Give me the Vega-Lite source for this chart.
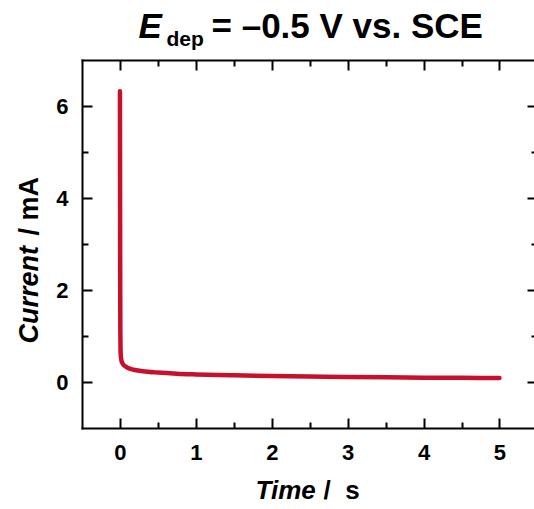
{
  "$schema": "https://vega.github.io/schema/vega-lite/v6.json",
  "width": 452,
  "height": 368,
  "autosize": {"type": "none"},
  "padding": {"left": 82, "top": 60, "right": 0, "bottom": 81},
  "background": "white",
  "config": {
    "view": {"stroke": null},
    "axis": {
      "grid": false,
      "domainColor": "black",
      "domainWidth": 2,
      "domainCap": "square",
      "tickColor": "black",
      "tickWidth": 2,
      "labelFont": "Liberation Sans",
      "labelFontWeight": "bold",
      "labelFontSize": 22,
      "labelColor": "black",
      "titleFont": "Liberation Sans",
      "titleFontWeight": "bold",
      "titleColor": "black"
    }
  },
  "data": {"values": [
    {"t": 0.000, "i": 6.32},
    {"t": 0.001, "i": 5.0},
    {"t": 0.002, "i": 3.8},
    {"t": 0.003, "i": 2.6},
    {"t": 0.004, "i": 1.8},
    {"t": 0.005, "i": 1.2},
    {"t": 0.007, "i": 0.8},
    {"t": 0.010, "i": 0.6},
    {"t": 0.020, "i": 0.46},
    {"t": 0.040, "i": 0.39},
    {"t": 0.070, "i": 0.34},
    {"t": 0.100, "i": 0.31},
    {"t": 0.150, "i": 0.28},
    {"t": 0.200, "i": 0.26},
    {"t": 0.300, "i": 0.235},
    {"t": 0.500, "i": 0.205},
    {"t": 0.750, "i": 0.18},
    {"t": 1.000, "i": 0.165},
    {"t": 1.500, "i": 0.145},
    {"t": 2.000, "i": 0.128},
    {"t": 2.500, "i": 0.117},
    {"t": 3.000, "i": 0.108},
    {"t": 3.500, "i": 0.101},
    {"t": 4.000, "i": 0.095},
    {"t": 4.500, "i": 0.091},
    {"t": 5.000, "i": 0.087}
  ]},
  "resolve": {"axis": {"x": "independent", "y": "independent"}},
  "layer": [
    {
      "mark": {"type": "line", "color": "#C8102E", "strokeWidth": 4.5, "strokeCap": "round", "interpolate": "monotone"},
      "encoding": {
        "x": {"field": "t", "type": "quantitative",
          "scale": {"domain": [-0.5, 5.455], "nice": false, "zero": false},
          "axis": {"orient": "bottom", "values": [0, 1, 2, 3, 4, 5], "tickSize": -10, "labelPadding": 24,
            "title": "Time", "titleFontStyle": "italic", "titleFontSize": 26, "titleX": 173, "titleY": 70,
            "titleAlign": "left", "titleBaseline": "alphabetic", "titleAnchor": "start"}},
        "y": {"field": "i", "type": "quantitative",
          "scale": {"domain": [-1, 7], "nice": false, "zero": false},
          "axis": {"orient": "left", "values": [0, 2, 4, 6], "tickSize": -10, "labelPadding": 24,
            "title": "Current", "titleFontStyle": "italic", "titleFontSize": 27, "titleX": -45, "titleY": 283,
            "titleAngle": -90, "titleAlign": "left", "titleBaseline": "alphabetic", "titleAnchor": "start"}}
      }
    },
    {
      "mark": {"type": "line", "strokeOpacity": 0},
      "encoding": {
        "x": {"field": "t", "type": "quantitative",
          "axis": {"orient": "bottom", "values": [0.5, 1.5, 2.5, 3.5, 4.5], "tickSize": -6, "labels": false, "domain": false,
            "title": "/\u00a0\u00a0s", "titleFontSize": 26, "titleX": 241, "titleY": 70,
            "titleAlign": "left", "titleBaseline": "alphabetic", "titleAnchor": "start"}},
        "y": {"field": "i", "type": "quantitative",
          "axis": {"orient": "left", "values": [1, 3, 5], "tickSize": -6, "labels": false, "domain": false,
            "title": "/ mA", "titleFontSize": 27, "titleX": -45, "titleY": 175,
            "titleAngle": -90, "titleAlign": "left", "titleBaseline": "alphabetic", "titleAnchor": "start"}}
      }
    },
    {
      "mark": {"type": "line", "strokeOpacity": 0},
      "encoding": {
        "x": {"field": "t", "type": "quantitative",
          "axis": {"orient": "top", "values": [0, 1, 2, 3, 4, 5], "tickSize": -10, "labels": false, "domain": true,
            "title": "E", "titleFontStyle": "italic", "titleFontSize": 35, "titleX": 56, "titleY": -23,
            "titleAngle": 0, "titleAlign": "left", "titleBaseline": "alphabetic", "titleAnchor": "start"}},
        "y": {"field": "i", "type": "quantitative",
          "axis": {"orient": "right", "values": [0, 2, 4, 6], "tickSize": -10, "labels": false, "domain": false, "offset": 3, "title": null}}
      }
    },
    {
      "mark": {"type": "line", "strokeOpacity": 0},
      "encoding": {
        "x": {"field": "t", "type": "quantitative",
          "axis": {"orient": "top", "values": [0.5, 1.5, 2.5, 3.5, 4.5], "tickSize": -6, "labels": false, "domain": false,
            "title": "dep", "titleFontSize": 21, "titleX": 84, "titleY": -15,
            "titleAngle": 0, "titleAlign": "left", "titleBaseline": "alphabetic", "titleAnchor": "start"}},
        "y": {"field": "i", "type": "quantitative",
          "axis": {"orient": "right", "values": [1, 3, 5], "tickSize": -6, "labels": false, "domain": false, "offset": 3, "title": null}}
      }
    },
    {
      "mark": {"type": "line", "strokeOpacity": 0},
      "encoding": {
        "x": {"field": "t", "type": "quantitative",
          "axis": {"orient": "top", "values": [], "ticks": false, "labels": false, "domain": false,
            "title": "= –0.5 V vs. SCE", "titleFontSize": 35, "titleX": 129, "titleY": -23,
            "titleAngle": 0, "titleAlign": "left", "titleBaseline": "alphabetic", "titleAnchor": "start"}},
        "y": {"field": "i", "type": "quantitative", "axis": null}
      }
    }
  ]
}
